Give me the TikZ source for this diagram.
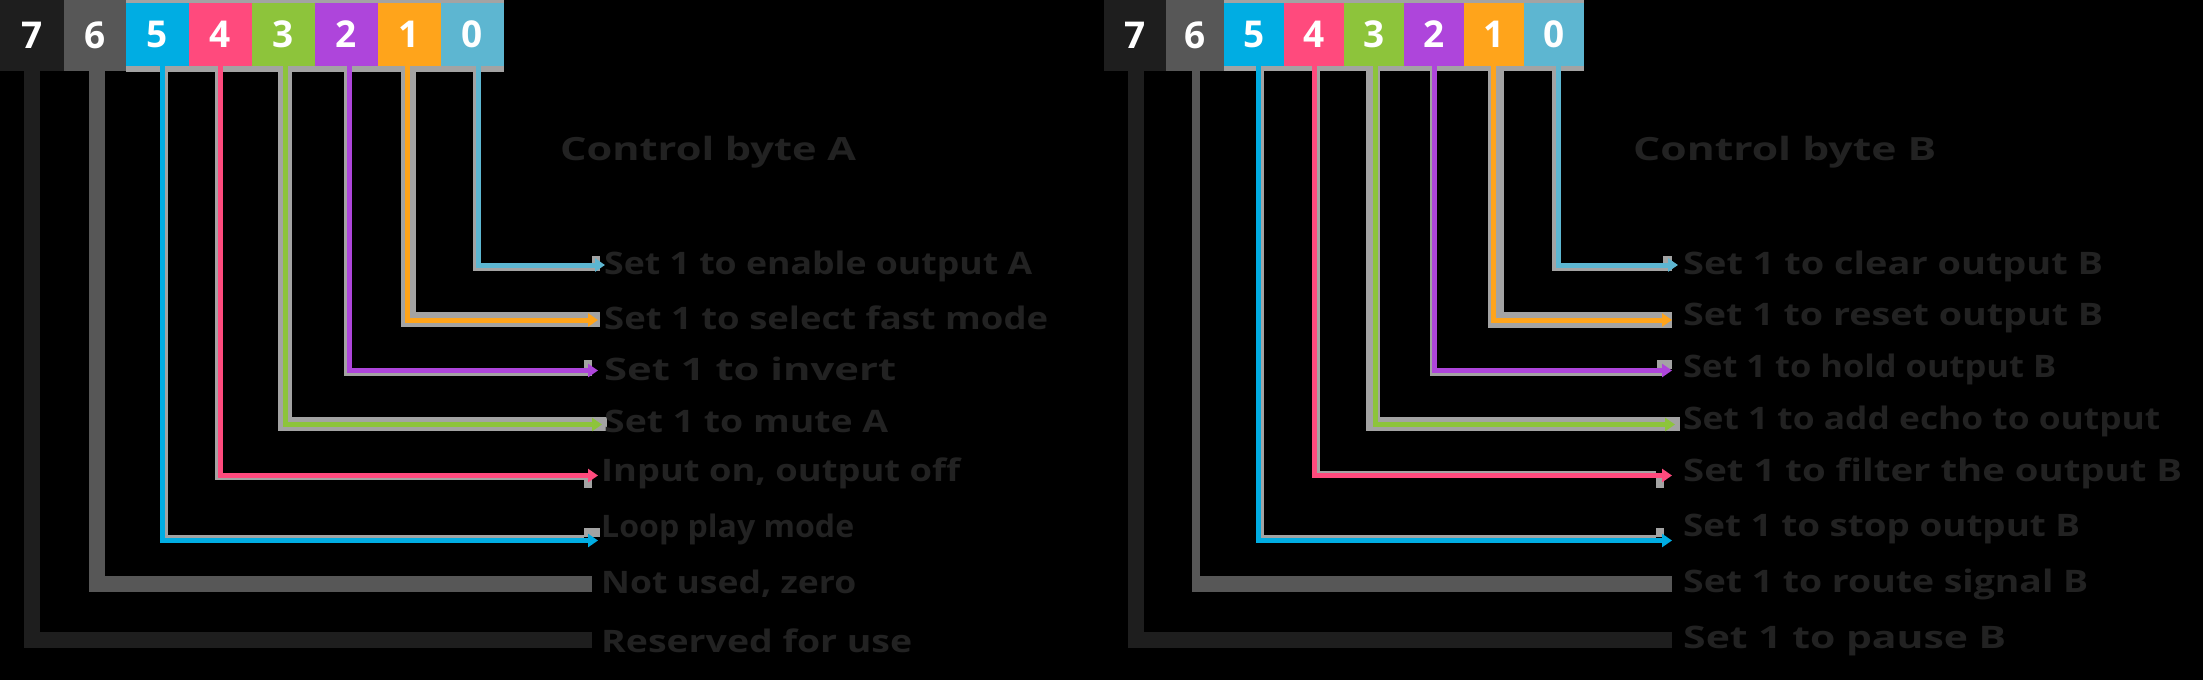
\documentclass[tikz,border=0pt]{standalone}
\usepackage{graphicx}
\usepackage{fontspec}
\setmainfont{Open Sans}
\usetikzlibrary{arrows.meta}
\definecolor{c7}{HTML}{1E1E1E}
\definecolor{c6}{HTML}{575757}
\definecolor{c5}{HTML}{00ADE3}
\definecolor{c4}{HTML}{FF4A7D}
\definecolor{c3}{HTML}{8DC43B}
\definecolor{c2}{HTML}{AE45DB}
\definecolor{c1}{HTML}{FFA41B}
\definecolor{c0}{HTML}{5DB6D1}
\definecolor{rim}{HTML}{A3A3A3}
\definecolor{ink}{HTML}{222222}
\newcommand{\fitto}[2]{\resizebox{#1}{\height}{#2}}
\tikzset{
  bitbox/.style={minimum width=#1, minimum height=63pt, inner sep=0pt, outer sep=0pt,
    text=white, font=\fontsize{37}{37}\selectfont\bfseries},
  tallbox/.style={bitbox=#1, minimum height=71pt},
  wire/.style={line width=5pt, -{Triangle[length=10pt,width=13pt]}},
  halo/.style={draw=rim, line width=#1},
  band/.style={line width=16pt},
  lab/.style={anchor=west, inner sep=0pt, text=ink, font=\fontsize{31}{31}\selectfont\bfseries},
  headline/.style={lab, font=\fontsize{32}{32}\selectfont\bfseries}
}
\begin{document}
\begin{tikzpicture}[x=1pt,y=-1pt]
\fill[black] (0,0) rectangle (2203,680);
\useasboundingbox (0,0) rectangle (2203,680);

% ================= LEFT =================
\fill[rim] (126,0) rectangle (504,72);
\node[tallbox=64pt, fill=c7] (L7) at (32,35.5) {7};
\node[tallbox=62pt, fill=c6] (L6) at (95,35) {6};
\node[bitbox=63pt, fill=c5] (L5) at (157.5,34.5) {5};
\node[bitbox=63pt, fill=c4] (L4) at (220.5,34.5) {4};
\node[bitbox=63pt, fill=c3] (L3) at (283.5,34.5) {3};
\node[bitbox=63pt, fill=c2] (L2) at (346.5,34.5) {2};
\node[bitbox=63pt, fill=c1] (L1) at (409.5,34.5) {1};
\node[bitbox=63pt, fill=c0] (L0) at (472.5,34.5) {0};

\coordinate (eL7) at (592,640);
\coordinate (eL6) at (592,584);
\coordinate (tL5) at (598,540.5);  \coordinate (hL5) at (584,537);
\coordinate (tL4) at (598,475.5);  \coordinate (hL4) at (592,478.5);
\coordinate (tL3) at (602,424.5);  \coordinate (hL3) at (607,424);
\coordinate (tL2) at (598,370.5);  \coordinate (hL2) at (592,374);
\coordinate (tL1) at (598,320);    \coordinate (hL1) at (600,319.5);
\coordinate (tL0) at (605,265);    \coordinate (hL0) at (600,269);

\draw[band, c7] (L7.south) |- (eL7);
\draw[band, c6] ([xshift=1.5pt]L6.south) |- (eL6);
% halos
\draw[halo=4pt] ([xshift=8.5pt]L5.south) |- (hL5);
\draw[halo=3pt] ([xshift=-4pt]L4.south) |- (hL4);
\draw[halo=14pt] ([xshift=1.5pt]L3.south) |- (hL3);
\draw[halo=3pt] ([xshift=-1pt]L2.south) |- (hL2);
\draw[halo=15pt] ([xshift=-1.5pt]L1.south) |- (hL1);
\draw[halo=4pt] ([xshift=2pt]L0.south) |- (hL0);
\fill[rim] (584,528) rectangle (600,537);
\fill[rim] (584,478) rectangle (592,488);
\fill[rim] (584,360) rectangle (592,369);
\fill[rim] (592,256) rectangle (600,264);
% wires
\draw[wire, c5] ([xshift=4.5pt]L5.south) |- (tL5);
\draw[wire, c4] ([xshift=-0.5pt]L4.south) |- (tL4);
\draw[wire, c3] ([xshift=1.5pt]L3.south) |- (tL3);
\draw[wire, c2] ([xshift=2.5pt]L2.south) |- (tL2);
\draw[wire, c1] ([xshift=-2pt]L1.south) |- (tL1);
\draw[wire, c0] ([xshift=5.5pt]L0.south) |- (tL0);

\node[headline] (lTitle) at (560,152) {\fitto{296pt}{Control byte A}};
\node[lab] (lL0) at (604,266) {\fitto{428pt}{Set 1 to enable output A}};
\node[lab] (lL1) at (604,318) {\fitto{444pt}{Set 1 to select fast mode}};
\node[lab] (lL2) at (604,369) {\fitto{292pt}{Set 1 to invert}};
\node[lab] (lL3) at (604,421) {\fitto{284pt}{Set 1 to mute A}};
\node[lab] (lL4) at (601,473) {\fitto{359pt}{Input on, output off}};
\node[lab] (lL5) at (601,529) {\fitto{253pt}{Loop play mode}};
\node[lab] (lL6) at (601,584) {\fitto{255pt}{Not used, zero}};
\node[lab] (lL7) at (601,641) {\fitto{311pt}{Reserved for use}};

% ================= RIGHT =================
\fill[rim] (1224,0) rectangle (1584,71);
\node[tallbox=62pt, fill=c7] (R7) at (1135,35.5) {7};
\node[tallbox=58pt, fill=c6] (R6) at (1195,35.5) {6};
\node[bitbox=60pt, fill=c5] (R5) at (1254,34.5) {5};
\node[bitbox=60pt, fill=c4] (R4) at (1314,34.5) {4};
\node[bitbox=60pt, fill=c3] (R3) at (1374,34.5) {3};
\node[bitbox=60pt, fill=c2] (R2) at (1434,34.5) {2};
\node[bitbox=60pt, fill=c1] (R1) at (1494,34.5) {1};
\node[bitbox=60pt, fill=c0] (R0) at (1554,34.5) {0};

\coordinate (eR7) at (1672,640);
\coordinate (cR6) at (1196,592);
\coordinate (eR6) at (1672,576);
\coordinate (tR5) at (1672,540.5); \coordinate (hR5) at (1656,537);
\coordinate (tR4) at (1672,475.5); \coordinate (hR4) at (1656,472.5);
\coordinate (tR3) at (1675,424.5); \coordinate (hR3) at (1680,424);
\coordinate (tR2) at (1672,370.5); \coordinate (hR2) at (1664,374);
\coordinate (tR1) at (1672,320);   \coordinate (hR1) at (1672,319.5);
\coordinate (tR0) at (1678,265);   \coordinate (hR0) at (1672,269);

\draw[band, c7] ([xshift=1pt]R7.south) |- (eR7);
\draw[c6, line width=8pt] ([xshift=1pt]R6.south) -- (cR6);
\fill[c6] (1192,592) rectangle (eR6);
% halos
\draw[halo=4pt] ([xshift=8pt]R5.south) |- (hR5);
\draw[halo=3pt] ([xshift=4.5pt]R4.south) |- (hR4);
\draw[halo=14pt] ([xshift=-1pt]R3.south) |- (hR3);
\draw[halo=3pt] ([xshift=-3pt]R2.south) |- (hR2);
\draw[halo=16pt] ([xshift=2pt]R1.south) |- (hR1);
\draw[halo=4pt] ([xshift=0pt]R0.south) |- (hR0);
\fill[rim] (1656,528) rectangle (1664,537);
\fill[rim] (1656,478) rectangle (1664,488);
\fill[rim] (1657,360) rectangle (1672,369);
\fill[rim] (1663,256) rectangle (1672,264);
% wires
\draw[wire, c5] ([xshift=4pt]R5.south) |- (tR5);
\draw[wire, c4] ([xshift=0.5pt]R4.south) |- (tR4);
\draw[wire, c3] ([xshift=1pt]R3.south) |- (tR3);
\draw[wire, c2] ([xshift=0.5pt]R2.south) |- (tR2);
\draw[wire, c1] ([xshift=-1pt]R1.south) |- (tR1);
\draw[wire, c0] ([xshift=4pt]R0.south) |- (tR0);

\node[headline] (rTitle) at (1633,152) {\fitto{303pt}{Control byte B}};
\node[lab] (lR0) at (1683,266) {\fitto{420pt}{Set 1 to clear output B}};
\node[lab] (lR1) at (1683,318) {\fitto{420pt}{Set 1 to reset output B}};
\node[lab] (lR2) at (1683,369) {\fitto{373pt}{Set 1 to hold output B}};
\node[lab] (lR3) at (1683,421) {\fitto{477pt}{Set 1 to add echo to output}};
\node[lab] (lR4) at (1683,473) {\fitto{499pt}{Set 1 to filter the output B}};
\node[lab] (lR5) at (1683,529) {\fitto{397pt}{Set 1 to stop output B}};
\node[lab] (lR6) at (1683,584) {\fitto{405pt}{Set 1 to route signal B}};
\node[lab] (lR7) at (1683,641) {\fitto{323pt}{Set 1 to pause B}};
\end{tikzpicture}
\end{document}
